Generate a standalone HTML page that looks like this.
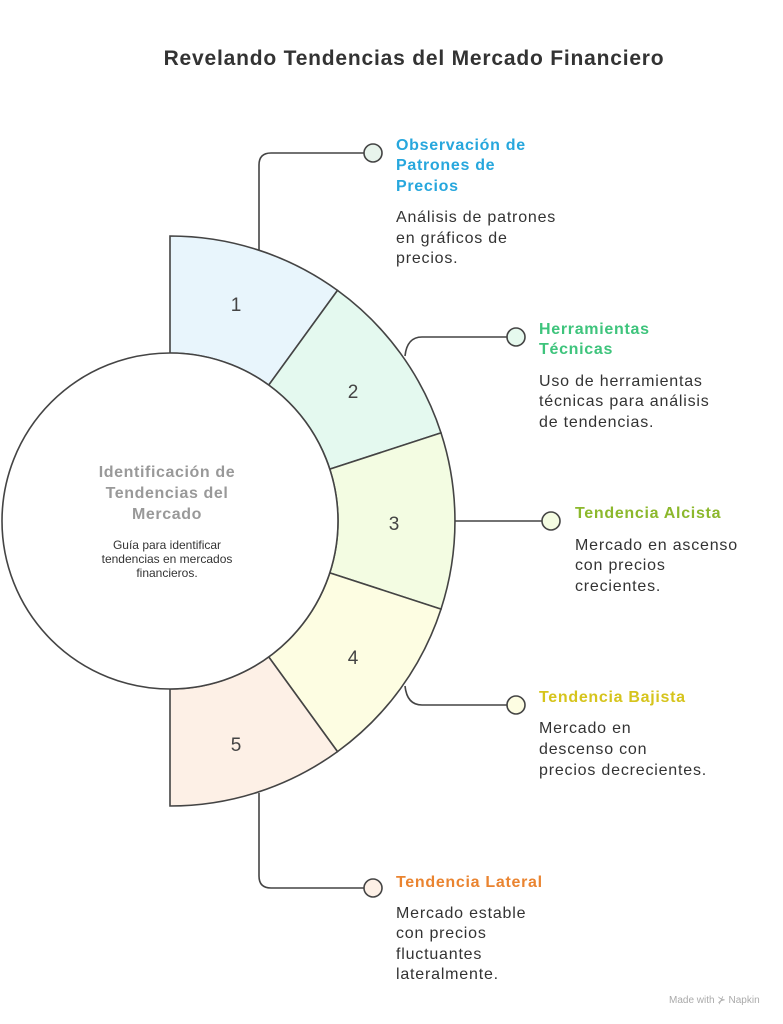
<!DOCTYPE html>
<html><head><meta charset="utf-8"><style>
html,body{margin:0;padding:0;background:#fff;}
svg{display:block;font-family:"Liberation Sans",sans-serif;}
.h{font-weight:bold;font-size:16px;letter-spacing:0.7px;}
.d{font-size:16px;fill:#333;letter-spacing:0.8px;}
</style></head><body>
<svg width="783" height="1024" viewBox="0 0 783 1024">
<text x="414" y="65" text-anchor="middle" font-weight="bold" font-size="21" letter-spacing="0.8" fill="#333">Revelando Tendencias del Mercado Financiero</text>
<g fill="none" stroke="#444" stroke-width="1.6">
<path d="M259 250 V165 Q259 153 271 153 H364"/>
<path d="M405 356 Q407 337 422 337 H507"/>
<path d="M455 521 H542"/>
<path d="M405 686 Q407 705 422 705 H507"/>
<path d="M259 793 V876 Q259 888 271 888 H364"/>
</g>
<g stroke="#444" stroke-width="1.6">
<path d="M170 236 A285 285 0 0 1 337.5 290.4 L268.7 385.1 A168 168 0 0 0 170 353 Z" fill="#e8f5fc"/>
<path d="M337.5 290.4 A285 285 0 0 1 441 432.9 L329.8 469.1 A168 168 0 0 0 268.7 385.1 Z" fill="#e4f9ef"/>
<path d="M441 432.9 A285 285 0 0 1 441 609.1 L329.8 572.9 A168 168 0 0 0 329.8 469.1 Z" fill="#f3fce2"/>
<path d="M441 609.1 A285 285 0 0 1 337.5 751.6 L268.7 656.9 A168 168 0 0 0 329.8 572.9 Z" fill="#fdfde2"/>
<path d="M337.5 751.6 A285 285 0 0 1 170 806 L170 689 A168 168 0 0 0 268.7 656.9 Z" fill="#fdf0e6"/>
<circle cx="170" cy="521" r="168" fill="#fff"/>
<circle cx="373" cy="153" r="9" fill="#e8f4ec"/>
<circle cx="516" cy="337" r="9" fill="#e6f9ee"/>
<circle cx="551" cy="521" r="9" fill="#f4fce2"/>
<circle cx="516" cy="705" r="9" fill="#fdfde2"/>
<circle cx="373" cy="888" r="9" fill="#fdf0e6"/>
</g>
<g font-size="19" fill="#444" text-anchor="middle">
<text x="236" y="311">1</text><text x="353" y="398">2</text><text x="394" y="530">3</text><text x="353" y="664">4</text><text x="236" y="751">5</text>
</g>
<g text-anchor="middle">
<text x="167" y="477" font-weight="bold" font-size="16" letter-spacing="0.6" fill="#999">Identificación de</text>
<text x="167" y="498" font-weight="bold" font-size="16" letter-spacing="0.6" fill="#999">Tendencias del</text>
<text x="167" y="519" font-weight="bold" font-size="16" letter-spacing="0.6" fill="#999">Mercado</text>
<text x="167" y="549" font-size="12" fill="#333">Guía para identificar</text>
<text x="167" y="563" font-size="12" fill="#333">tendencias en mercados</text>
<text x="167" y="577" font-size="12" fill="#333">financieros.</text>
</g>
<g class="h" fill="#27a7dd">
<text x="396" y="150">Observación de</text><text x="396" y="170">Patrones de</text><text x="396" y="191">Precios</text></g>
<text class="d" x="396" y="222">Análisis de patrones</text><text class="d" x="396" y="243">en gráficos de</text><text class="d" x="396" y="263">precios.</text>
<g class="h" fill="#3ec47c"><text x="539" y="334">Herramientas</text><text x="539" y="354">Técnicas</text></g>
<text class="d" x="539" y="386">Uso de herramientas</text><text class="d" x="539" y="406">técnicas para análisis</text><text class="d" x="539" y="427">de tendencias.</text>
<text class="h" fill="#8cb82c" x="575" y="518">Tendencia Alcista</text>
<text class="d" x="575" y="550">Mercado en ascenso</text><text class="d" x="575" y="570">con precios</text><text class="d" x="575" y="591">crecientes.</text>
<text class="h" fill="#d6c41c" x="539" y="702">Tendencia Bajista</text>
<text class="d" x="539" y="733">Mercado en</text><text class="d" x="539" y="754">descenso con</text><text class="d" x="539" y="775">precios decrecientes.</text>
<text class="h" fill="#ea8430" x="396" y="887">Tendencia Lateral</text>
<text class="d" x="396" y="918">Mercado estable</text><text class="d" x="396" y="938">con precios</text><text class="d" x="396" y="959">fluctuantes</text><text class="d" x="396" y="979">lateralmente.</text>
<text x="669" y="1003" font-size="10" fill="#aaa">Made with ⊁ Napkin</text>
</svg>
</body></html>
